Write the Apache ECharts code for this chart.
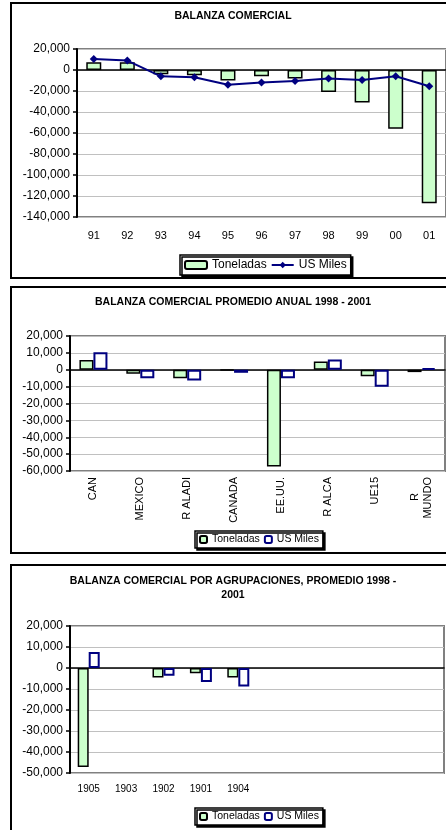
<!DOCTYPE html>
<html>
<head>
<meta charset="utf-8">
<script src="https://cdn.jsdelivr.net/npm/echarts@6/dist/echarts.min.js"></script>
<style>
  html, body { margin: 0; padding: 0; background: #fff; overflow: hidden; }
  .box { position: absolute; left: 10px; width: 446px; border: 2px solid #000; box-sizing: border-box; }
  #c1 { top: 2px; height: 277px; }
  #c2 { top: 286px; height: 268px; }
  #c3 { top: 564px; height: 290px; }
</style>
</head>
<body>
<div id="c1" class="box"></div>
<div id="c2" class="box"></div>
<div id="c3" class="box"></div>
<script>
// chart 1: yearly balance
const years = ["91", "92", "93", "94", "95", "96", "97", "98", "99", "00", "01"];
const tonAnual = [7300, 7300, -4000, -5000, -10000, -6000, -8000, -21000, -31000, -56000, -127000];
const usAnual = [10500, 9000, -6000, -7000, -14000, -12000, -10500, -8000, -9500, -6000, -15500];

// chart 2: average by region 1998-2001
const regiones = ["CAN", "MEXICO", "R ALADI", "CANADA", "EE.UU.", "R ALCA", "UE15", "R\nMUNDO"];
const tonRegion = [5800, -2400, -5000, -300, -57400, 4900, -3800, -1400];
const usRegion = [10400, -5000, -6400, -1800, -5000, 6100, -10000, 1000];

// chart 3: average by group 1998-2001 (axis keeps 10 slots, only 5 used)
const grupos = ["1905", "1903", "1902", "1901", "1904"];
const tonGrupo = [-47200, null, -4500, -2500, -4500];
const usGrupo = [7600, null, -3700, -6700, -8800];

const FONT = "Liberation Sans, Arial, sans-serif";
const GREEN = "#ccffcc";
const NAVY = "#000080";
const fmt = v => v.toLocaleString("en-US");

// wrapped, rotated label: push the short first line towards the middle
function centreLines(v) {
  const lines = v.split("\n");
  if (lines.length < 2) return v;
  return lines.map((s, i) => i === 0 ? "{p|" + s + "}" : "{q|" + s + "}").join("\n");
}

function baseY(min, max, interval) {
  return {
    type: "value", min: min, max: max, interval: interval,
    axisLine: { show: true, lineStyle: { color: "#000", width: 2 } },
    axisTick: { show: true, length: 4, lineStyle: { color: "#000", width: 1.5 } },
    axisLabel: { formatter: fmt, color: "#000", fontFamily: FONT, fontSize: 12, margin: 7 },
    splitLine: { lineStyle: { color: "#c0c0c0", width: 1.2 } }
  };
}

function zeroAxis(cats, maxIdx) {
  return {
    type: "category", data: cats, position: "top", max: maxIdx,
    axisLine: { onZero: true, lineStyle: { color: "#000", width: 1.5 } },
    axisTick: { inside: true, length: 4, lineStyle: { color: "#000", width: 1.5 } },
    axisLabel: { show: false },
    splitLine: { show: false }
  };
}

function titleOpt(text, top) {
  return {
    text: text, left: "center", top: top,
    textStyle: { fontFamily: FONT, fontSize: 10.5, fontWeight: "bold", color: "#000", lineHeight: 14 }
  };
}

const legendBase = {
  orient: "horizontal",
  backgroundColor: "#fff",
  borderColor: "#000",
  borderWidth: 1.5,
  shadowColor: "#000",
  shadowBlur: 0,
  shadowOffsetX: 2,
  shadowOffsetY: 2,
  itemGap: 4
};

// chart 1
const chart1 = echarts.init(document.getElementById("c1"));
chart1.setOption({
  animation: false,
  title: titleOpt("BALANZA COMERCIAL", 0),
  grid: { left: 65, right: 8, top: 45, height: 168, show: true, borderColor: "#808080", borderWidth: 2 },
  legend: Object.assign({}, legendBase, {
    left: 168, top: 251, padding: [4, 4, 4, 4],
    itemWidth: 22, itemHeight: 8,
    textStyle: { fontFamily: FONT, fontSize: 12, color: "#000" },
    data: ["Toneladas", "US Miles"]
  }),
  xAxis: [
    {
      type: "category", data: years, position: "bottom",
      axisLine: { show: false, onZero: false },
      axisTick: { show: false },
      axisLabel: { color: "#000", fontFamily: FONT, fontSize: 11, margin: 13 }
    },
    zeroAxis(years)
  ],
  yAxis: baseY(-140000, 20000, 20000),
  series: [
    {
      name: "Toneladas", type: "bar", data: tonAnual, barWidth: 15,
      itemStyle: { color: GREEN, borderColor: "#000", borderWidth: 1.5 }
    },
    {
      name: "US Miles", type: "line", data: usAnual,
      symbol: "diamond", symbolSize: 8, z: 5,
      lineStyle: { color: NAVY, width: 2 },
      itemStyle: { color: NAVY }
    }
  ]
});

// chart 2
const chart2 = echarts.init(document.getElementById("c2"));
chart2.setOption({
  animation: false,
  title: titleOpt("BALANZA COMERCIAL PROMEDIO ANUAL 1998 - 2001", 2),
  grid: { left: 58, right: 9, top: 48, height: 135, show: true, borderColor: "#808080", borderWidth: 2 },
  legend: Object.assign({}, legendBase, {
    left: 183, top: 243, padding: [3, 4, 3, 4],
    itemWidth: 7, itemHeight: 7,
    textStyle: { fontFamily: FONT, fontSize: 10.5, color: "#000" },
    data: ["Toneladas", "US Miles"]
  }),
  xAxis: [
    {
      type: "category", data: regiones, position: "bottom",
      axisLine: { show: false, onZero: false },
      axisTick: { show: false },
      axisLabel: {
        color: "#000", fontFamily: FONT, fontSize: 11, rotate: 90, margin: 6, interval: 0, lineHeight: 13,
        formatter: centreLines,
        rich: {
          p: { fontFamily: FONT, fontSize: 11, color: "#000", lineHeight: 13, padding: [0, 16, 0, 0] },
          q: { fontFamily: FONT, fontSize: 11, color: "#000", lineHeight: 13 }
        }
      }
    },
    zeroAxis(regiones)
  ],
  yAxis: baseY(-60000, 20000, 10000),
  series: [
    {
      name: "Toneladas", type: "bar", data: tonRegion, barWidth: 14, barGap: "0%",
      itemStyle: { color: GREEN, borderColor: "#000", borderWidth: 1.5 }
    },
    {
      name: "US Miles", type: "bar", data: usRegion, barWidth: 14,
      itemStyle: { color: "#fff", borderColor: NAVY, borderWidth: 2 }
    }
  ]
});

// chart 3
const chart3 = echarts.init(document.getElementById("c3"));
chart3.setOption({
  animation: false,
  title: titleOpt("BALANZA COMERCIAL POR AGRUPACIONES, PROMEDIO 1998 -\n2001", 3),
  grid: { left: 58, right: 10, top: 60, height: 147, show: true, borderColor: "#808080", borderWidth: 2 },
  legend: Object.assign({}, legendBase, {
    left: 183, top: 242, padding: [3, 4, 3, 4],
    itemWidth: 7, itemHeight: 7,
    textStyle: { fontFamily: FONT, fontSize: 10.5, color: "#000" },
    data: ["Toneladas", "US Miles"]
  }),
  xAxis: [
    {
      type: "category", data: grupos, position: "bottom", max: 9,
      axisLine: { show: false, onZero: false },
      axisTick: { show: false },
      axisLabel: {
        color: "#000", fontFamily: FONT, fontSize: 10, margin: 11, interval: 0,
        formatter: v => (v == null || v === "undefined") ? "" : v
      }
    },
    zeroAxis(grupos, 9)
  ],
  yAxis: baseY(-50000, 20000, 10000),
  series: [
    {
      name: "Toneladas", type: "bar", data: tonGrupo, barWidth: 11, barGap: "0%",
      itemStyle: { color: GREEN, borderColor: "#000", borderWidth: 1.5 }
    },
    {
      name: "US Miles", type: "bar", data: usGrupo, barWidth: 11,
      itemStyle: { color: "#fff", borderColor: NAVY, borderWidth: 2 }
    }
  ]
});
</script>
</body>
</html>
